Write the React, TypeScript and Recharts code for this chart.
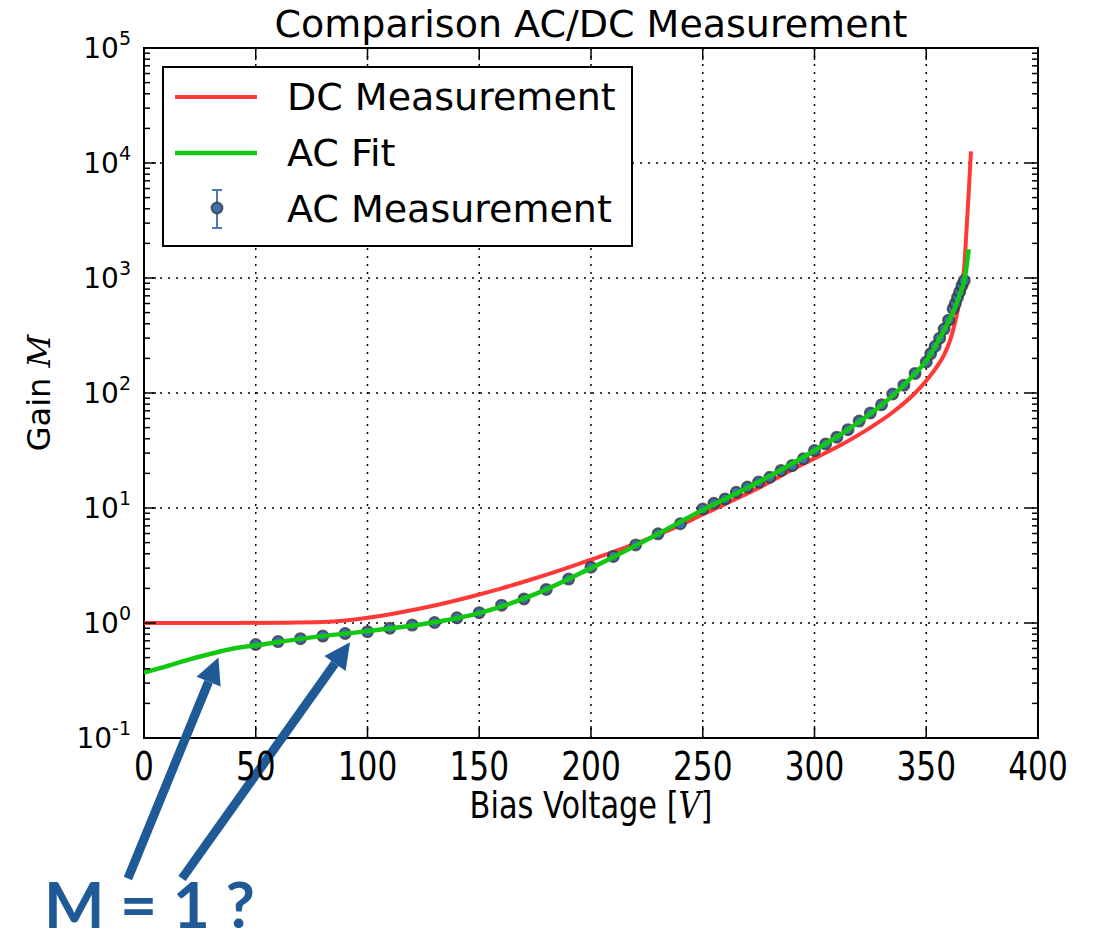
import React from "react";
import {
  CartesianGrid,
  ComposedChart,
  Legend,
  Line,
  ReferenceArea,
  ReferenceLine,
  XAxis,
  YAxis,
} from "recharts";

// DC measurement (red line)
const dcVoltage = [0, 20, 40, 60, 80, 90, 100, 115, 130, 150, 160, 175, 190, 200, 210, 220, 230, 240, 250, 260, 275, 290, 300, 312, 325, 335, 345, 350, 355, 358, 361, 363, 365, 366, 367, 368, 369, 370];
const dcGain = [1.0, 1.0, 1.0, 1.005, 1.02, 1.05, 1.11, 1.24, 1.42, 1.77, 2.0, 2.45, 3.05, 3.55, 4.15, 4.9, 5.85, 7.1, 8.8, 10.8, 14.9, 21.5, 27, 35.5, 50, 68, 100, 128, 172, 215, 300, 420, 650, 880, 1250, 2600, 5500, 12600];

// AC fit (green line)
const fitVoltage = [0, 10, 20, 30, 40, 50, 75, 100, 125, 150, 175, 200, 225, 250, 275, 300, 312, 325, 335, 345, 350, 355, 360, 363, 365, 367, 368, 369];
const fitGain = [0.37, 0.42, 0.48, 0.54, 0.6, 0.64, 0.75, 0.85, 0.98, 1.22, 1.78, 3.0, 5.3, 9.6, 16.8, 31.6, 44, 66, 95, 148, 190, 275, 420, 560, 720, 950, 1250, 1780];

// AC measurement (points)
const acVoltage = [
  50, 60, 70, 80, 90, 100, 110, 120, 130, 140, 150, 160, 170, 180, 190, 200, 210, 220, 230, 240,
  250, 255, 260, 265, 270, 275, 280, 285, 290, 295, 300, 305, 310, 315, 320, 325, 330, 335, 340, 345, 350,
  352, 354, 356, 358, 360, 362, 363, 364, 365, 366, 367,
];
const acGain = [
  0.65, 0.69, 0.73, 0.77, 0.81, 0.84, 0.9, 0.96, 1.01, 1.11, 1.23, 1.43, 1.62, 1.96, 2.41, 3.06, 3.79, 4.77, 5.96, 7.3,
  9.8, 11.0, 12.0, 13.7, 15.2, 16.8, 18.5, 21.2, 23.4, 26.8, 31.6, 36.1, 41.3, 48, 57, 67, 79, 98, 117, 148, 186,
  220, 255, 300, 360, 430, 540, 600, 680, 760, 860, 950,
];

const xTicks = [0, 50, 100, 150, 200, 250, 300, 350, 400];
const yMajorTicks = [0.1, 1, 10, 100, 1000, 10000, 100000];
const yExponents = ["-1", "0", "1", "2", "3", "4", "5"];
const minorSteps = [2, 3, 4, 5, 6, 7, 8, 9];
const yMinorTicks = yMajorTicks.slice(0, -1).flatMap((d) => minorSteps.map((k) => d * k));

// annotation arrows: tail -> tip, in data coordinates
const arrowTails = [
  { x: -7.2, y: 0.006 },
  { x: 17, y: 0.006 },
];
const arrowTips = [
  { x: 33.3, y: 0.5 },
  { x: 92.2, y: 0.68 },
];

const dcData = dcVoltage.map((v, i) => ({ v, g: dcGain[i] }));
const fitData = fitVoltage.map((v, i) => ({ v, g: fitGain[i] }));
const acData = acVoltage.map((v, i) => ({ v, g: acGain[i] }));

const W = 1096;
const H = 937;
const PLOT_LEFT = 144;
const PLOT_RIGHT = 1038;
const PLOT_TOP = 48;
const PLOT_BOTTOM = 738;
const FONT = "'DejaVu Sans', sans-serif";
const RED = "#ff3838";
const GREEN = "#13c813";
const BLUE = "#1f5a97";
const MARK = "#3d6fb2";

function YTick({ y, payload }: any) {
  const idx = yMajorTicks.indexOf(payload.value);
  const major = idx >= 0;
  const len = major ? 12 : 6;
  return (
    <g>
      <line x1={PLOT_LEFT} x2={PLOT_LEFT + len} y1={y} y2={y} stroke="#000" strokeWidth={1.5} />
      <line x1={PLOT_RIGHT} x2={PLOT_RIGHT - len} y1={y} y2={y} stroke="#000" strokeWidth={1.5} />
      {major && (
        <text x={131} y={y + 10} textAnchor="end" fontSize={28} fill="#000" fontFamily={FONT}>
          <tspan>10</tspan>
          <tspan dy={-13} fontSize={19}>{yExponents[idx]}</tspan>
        </text>
      )}
    </g>
  );
}

function XTick({ x, payload }: any) {
  return (
    <g>
      <line x1={x} x2={x} y1={PLOT_BOTTOM} y2={PLOT_BOTTOM - 12} stroke="#000" strokeWidth={1.5} />
      <line x1={x} x2={x} y1={PLOT_TOP} y2={PLOT_TOP + 12} stroke="#000" strokeWidth={1.5} />
      <g transform={`translate(${x},780) scale(0.8,1)`}>
        <text x={0} y={0} textAnchor="middle" fontSize={39} fill="#000" fontFamily={FONT}>
          {payload.value}
        </text>
      </g>
    </g>
  );
}

function XLabel() {
  return (
    <g transform={`translate(${(PLOT_LEFT + PLOT_RIGHT) / 2},818) scale(0.8,1)`}>
      <text x={0} y={0} textAnchor="middle" fontSize={38} fill="#000" fontFamily={FONT}>
        Bias Voltage [
        <tspan fontFamily="'DejaVu Serif', serif" fontStyle="italic">V</tspan>]
      </text>
    </g>
  );
}

function YLabel() {
  const cy = (PLOT_TOP + PLOT_BOTTOM) / 2;
  return (
    <text
      x={50}
      y={cy}
      transform={`rotate(-90, 50, ${cy})`}
      textAnchor="middle"
      fontSize={32}
      fill="#000"
      fontFamily={FONT}
    >
      Gain <tspan fontFamily="'DejaVu Serif', serif" fontStyle="italic">M</tspan>
    </text>
  );
}

function ArrowShape(props: any) {
  const { x1, y1, x2, y2 } = props;
  const dx = x2 - x1;
  const dy = y2 - y1;
  const len = Math.hypot(dx, dy) || 1;
  const ux = dx / len;
  const uy = dy / len;
  const head = 26;
  const half = 13;
  const bx = x2 - ux * head;
  const by = y2 - uy * head;
  return (
    <g>
      <line x1={x1} y1={y1} x2={bx} y2={by} stroke={BLUE} strokeWidth={9} />
      <polygon
        points={`${x2},${y2} ${bx - uy * half},${by + ux * half} ${bx + uy * half},${by - ux * half}`}
        fill={BLUE}
      />
    </g>
  );
}

function Marker({ cx, cy }: any) {
  if (cx == null || cy == null) return null;
  return <circle cx={cx} cy={cy} r={5.5} fill={MARK} stroke="#333" strokeOpacity={0.75} strokeWidth={2} />;
}

function LegendBox() {
  return (
    <svg width={471} height={181} style={{ display: "block" }}>
      <rect x={1} y={1} width={469} height={179} fill="#fff" stroke="#000" strokeWidth={2} />
      <line x1={13} x2={95} y1={31} y2={31} stroke={RED} strokeWidth={4} />
      <text x={125} y={44} fontSize={38} fontFamily={FONT} fill="#000">DC Measurement</text>
      <line x1={13} x2={95} y1={87} y2={87} stroke={GREEN} strokeWidth={4.5} />
      <text x={125} y={100} fontSize={38} fontFamily={FONT} fill="#000">AC Fit</text>
      <line x1={55} x2={55} y1={124} y2={162} stroke="#4a7ab8" strokeWidth={2} />
      <line x1={50} x2={60} y1={124} y2={124} stroke="#4a7ab8" strokeWidth={2} />
      <line x1={50} x2={60} y1={162} y2={162} stroke="#4a7ab8" strokeWidth={2} />
      <circle cx={55} cy={142} r={5.5} fill={MARK} stroke="#333" strokeOpacity={0.75} strokeWidth={2} />
      <text x={125} y={156} fontSize={38} fontFamily={FONT} fill="#000">AC Measurement</text>
    </svg>
  );
}

export default function App() {
  return (
    <div style={{ position: "relative", width: W, height: H, background: "#fff" }}>
      <style>{"body{margin:0;background:#fff}"}</style>
      <ComposedChart
        width={W}
        height={H}
        margin={{ top: PLOT_TOP, right: W - PLOT_RIGHT, left: 0, bottom: H - PLOT_BOTTOM - 60 }}
      >
        <CartesianGrid
          stroke="#000"
          strokeWidth={1.5}
          strokeDasharray="2 6"
          horizontalValues={yMajorTicks}
          verticalValues={xTicks}
        />
        <XAxis
          dataKey="v"
          type="number"
          domain={[0, 400]}
          ticks={xTicks}
          allowDataOverflow
          height={60}
          axisLine={false}
          tickLine={false}
          tick={<XTick />}
          interval={0}
          label={{ content: () => <XLabel /> }}
        />
        <YAxis
          dataKey="g"
          type="number"
          scale="log"
          domain={[0.1, 100000]}
          ticks={[...yMajorTicks, ...yMinorTicks]}
          allowDataOverflow
          width={PLOT_LEFT}
          axisLine={false}
          tickLine={false}
          tick={<YTick />}
          interval={0}
          label={{ content: () => <YLabel /> }}
        />
        <Line
          data={dcData}
          dataKey="g"
          type="monotone"
          stroke={RED}
          strokeWidth={4}
          dot={false}
          activeDot={false}
          isAnimationActive={false}
          name="DC Measurement"
        />
        <Line
          data={acData}
          dataKey="g"
          stroke="none"
          strokeWidth={0}
          dot={<Marker />}
          activeDot={false}
          isAnimationActive={false}
          name="AC Measurement"
          {...({ zIndex: 380 } as any)}
        />
        <Line
          data={fitData}
          dataKey="g"
          type="monotone"
          stroke={GREEN}
          strokeWidth={4.5}
          dot={false}
          activeDot={false}
          isAnimationActive={false}
          name="AC Fit"
          {...({ zIndex: 700 } as any)}
        />
        <ReferenceArea
          x1={0}
          x2={400}
          y1={0.1}
          y2={100000}
          fill="none"
          stroke="#000"
          strokeWidth={2}
          ifOverflow="visible"
        />
        {arrowTails.map((t, i) => (
          <ReferenceLine
            key={i}
            segment={[t, arrowTips[i]]}
            ifOverflow="visible"
            shape={ArrowShape}
          />
        ))}
        <Legend
          layout="vertical"
          align="center"
          verticalAlign="middle"
          content={() => <LegendBox />}
          wrapperStyle={{ left: 162, top: 66, width: 471, height: 181 }}
        />
      </ComposedChart>
      <svg
        width={W}
        height={H}
        style={{ position: "absolute", left: 0, top: 0, pointerEvents: "none" }}
      >
        <text
          x={(PLOT_LEFT + PLOT_RIGHT) / 2}
          y={37}
          textAnchor="middle"
          fontSize={38}
          fontFamily={FONT}
          fill="#000"
        >
          Comparison AC/DC Measurement
        </text>
        <text x={44} y={928} fontSize={64} fontWeight="bold" fontFamily="Lato, sans-serif" fill={BLUE}>
          M = 1 ?
        </text>
      </svg>
    </div>
  );
}
